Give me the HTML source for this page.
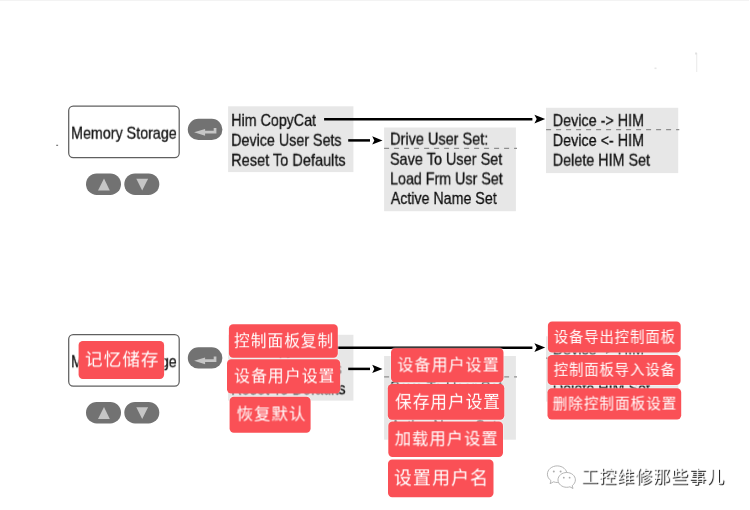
<!DOCTYPE html>
<html lang="zh-CN">
<head>
<meta charset="utf-8">
<title>Memory Storage</title>
<style>
html,body{margin:0;padding:0;background:#fff;}
body{width:750px;height:510px;position:relative;overflow:hidden;font-family:"Liberation Sans","Noto Sans CJK SC",sans-serif;}
.diagram{position:absolute;left:0;width:750px;height:140px;}
.t{position:absolute;left:0;top:0;white-space:nowrap;font-size:17px;line-height:20px;height:20px;color:#111;-webkit-text-stroke:0.3px #111;transform-origin:0 0;will-change:transform;}
svg.lines{position:absolute;left:0;top:0;}
.tag{position:absolute;color:#fff;font-family:"Liberation Sans","Noto Sans CJK SC",sans-serif;font-weight:400;}
.tag svg{position:absolute;left:0;top:0;}
.tag span{position:absolute;left:0;top:0;white-space:nowrap;line-height:26px;transform-origin:0 0;will-change:transform;}
.wm{position:absolute;left:0;top:0;font-size:17px;letter-spacing:1px;line-height:24px;color:#fff;text-shadow:0.9px 0.9px 0.5px rgba(0,0,0,0.9);white-space:nowrap;transform-origin:0 0;transform:translate(581.2px,465.8px) scale(0.999);will-change:transform;}
.specks{position:absolute;left:0;top:0;pointer-events:none;}
.wmi{position:absolute;left:545px;top:462px;transform:translateY(0.7px) scale(0.9999);transform-origin:0 0;}
</style>
</head>
<body>

<!-- top diagram: English menu tree -->
<div class="diagram" id="d1" style="top:90px">
  <svg class="lines" width="750" height="140" viewBox="0 0 750 140"><g transform="translate(0 0.00)">
    <rect x="68.7" y="16.1" width="110.5" height="51.5" rx="4.5" ry="4.5" fill="#fff" stroke="#606060" stroke-width="1.25"/>
    <rect x="228.1" y="16.3" width="125.3" height="65.8" fill="#e7e7e7"/>
    <rect x="384.1" y="37.5" width="131.8" height="83.7" fill="#e7e7e7"/>
    <rect x="546.0" y="17.8" width="132.2" height="65.3" fill="#e7e7e7"/>
    <g transform="translate(187.8 28.8)"><rect width="34.6" height="21.2" rx="10.6" fill="#727272"/><path d="M6.3 13.4 L17.3 10.2 L17.3 12 L25.9 12 L25.9 9.2 L28.6 9.2 L28.6 14.6 L17.3 14.6 L17.3 16.9 Z" fill="#c6c6c6"/></g>
    <g transform="translate(86 83.4)"><rect width="35" height="21.5" rx="10.7" fill="#727272"/><path d="M18 5 L23.8 17 L12 17 Z" fill="#c6c6c6"/></g>
    <g transform="translate(124.3 83.4)"><rect width="35" height="21.5" rx="10.7" fill="#727272"/><path d="M12 5.4 L23.8 5.4 L17.9 17 Z" fill="#c6c6c6"/></g>
    <line x1="384.1" y1="58.4" x2="517" y2="58.4" stroke="#8e8e8e" stroke-width="1.3" stroke-dasharray="5 5"/>
    <line x1="546.1" y1="39.7" x2="679.3" y2="39.7" stroke="#8e8e8e" stroke-width="1.3" stroke-dasharray="5 5"/>
    <line x1="324.1" y1="29.3" x2="532.4" y2="29.3" stroke="#000" stroke-width="2.6"/>
    <path d="M545.2 29.1 L534.4 24.7 L536.7 29.1 L534.4 33.5 Z" fill="#000"/>
    <line x1="348.2" y1="50.4" x2="370" y2="50.4" stroke="#000" stroke-width="2.5"/>
    <path d="M382.5 50.4 L372.2 46.2 L374.3 50.4 L372.2 54.6 Z" fill="#000"/>
  </g></svg>
  <div class="t" style="transform:translate(71.08px,33.70px) scaleX(0.8403);">Memory Storage</div>
  <div class="t" style="transform:translate(231.23px,20.90px) scaleX(0.8391);">Him CopyCat</div>
  <div class="t" style="transform:translate(231.18px,40.80px) scaleX(0.8404);">Device User Sets</div>
  <div class="t" style="transform:translate(231.16px,60.80px) scaleX(0.8555);">Reset To Defaults</div>
  <div class="t" style="transform:translate(390.06px,39.60px) scaleX(0.8524);">Drive User Set:</div>
  <div class="t" style="transform:translate(389.95px,59.80px) scaleX(0.8512);">Save To User Set</div>
  <div class="t" style="transform:translate(390.08px,79.40px) scaleX(0.8391);">Load Frm Usr Set</div>
  <div class="t" style="transform:translate(390.80px,99.00px) scaleX(0.8361);">Active Name Set</div>
  <div class="t" style="transform:translate(552.77px,21.10px) scaleX(0.8440);">Device -&gt; HIM</div>
  <div class="t" style="transform:translate(552.77px,41.00px) scaleX(0.8440);">Device &lt;- HIM</div>
  <div class="t" style="transform:translate(552.77px,60.70px) scaleX(0.8439);">Delete HIM Set</div>
</div>

<!-- bottom diagram: same tree with translation tags -->
<div class="diagram" id="d2" style="top:318px">
  <svg class="lines" width="750" height="140" viewBox="0 0 750 140"><g transform="translate(0 0.50)">
    <rect x="68.7" y="16.1" width="110.5" height="51.5" rx="4.5" ry="4.5" fill="#fff" stroke="#606060" stroke-width="1.25"/>
    <rect x="228.1" y="16.3" width="125.3" height="65.8" fill="#e7e7e7"/>
    <rect x="384.1" y="37.5" width="131.8" height="83.7" fill="#e7e7e7"/>
    <rect x="546.0" y="17.8" width="132.2" height="65.3" fill="#e7e7e7"/>
    <g transform="translate(187.8 28.8)"><rect width="34.6" height="21.2" rx="10.6" fill="#727272"/><path d="M6.3 13.4 L17.3 10.2 L17.3 12 L25.9 12 L25.9 9.2 L28.6 9.2 L28.6 14.6 L17.3 14.6 L17.3 16.9 Z" fill="#c6c6c6"/></g>
    <g transform="translate(86 83.4)"><rect width="35" height="21.5" rx="10.7" fill="#727272"/><path d="M18 5 L23.8 17 L12 17 Z" fill="#c6c6c6"/></g>
    <g transform="translate(124.3 83.4)"><rect width="35" height="21.5" rx="10.7" fill="#727272"/><path d="M12 5.4 L23.8 5.4 L17.9 17 Z" fill="#c6c6c6"/></g>
    <line x1="384.1" y1="58.4" x2="517" y2="58.4" stroke="#8e8e8e" stroke-width="1.3" stroke-dasharray="5 5"/>
    <line x1="546.1" y1="39.7" x2="679.3" y2="39.7" stroke="#8e8e8e" stroke-width="1.3" stroke-dasharray="5 5"/>
    <line x1="324.1" y1="29.3" x2="532.4" y2="29.3" stroke="#000" stroke-width="2.6"/>
    <path d="M545.2 29.1 L534.4 24.7 L536.7 29.1 L534.4 33.5 Z" fill="#000"/>
    <line x1="348.2" y1="50.4" x2="370" y2="50.4" stroke="#000" stroke-width="2.5"/>
    <path d="M382.5 50.4 L372.2 46.2 L374.3 50.4 L372.2 54.6 Z" fill="#000"/>
  </g></svg>
  <div class="t" style="transform:translate(71.08px,34.20px) scaleX(0.8403);">Memory Storage</div>
  <div class="t" style="transform:translate(231.23px,21.40px) scaleX(0.8391);">Him CopyCat</div>
  <div class="t" style="transform:translate(231.18px,41.30px) scaleX(0.8404);">Device User Sets</div>
  <div class="t" style="transform:translate(231.16px,61.30px) scaleX(0.8555);">Reset To Defaults</div>
  <div class="t" style="transform:translate(390.06px,40.10px) scaleX(0.8524);">Drive User Set:</div>
  <div class="t" style="transform:translate(389.95px,60.30px) scaleX(0.8512);">Save To User Set</div>
  <div class="t" style="transform:translate(390.08px,79.90px) scaleX(0.8391);">Load Frm Usr Set</div>
  <div class="t" style="transform:translate(390.80px,99.50px) scaleX(0.8361);">Active Name Set</div>
  <div class="t" style="transform:translate(552.77px,21.60px) scaleX(0.8440);">Device -&gt; HIM</div>
  <div class="t" style="transform:translate(552.77px,41.50px) scaleX(0.8440);">Device &lt;- HIM</div>
  <div class="t" style="transform:translate(552.77px,61.20px) scaleX(0.8439);">Delete HIM Set</div>
</div>

<!-- red translation tags -->
<div class="tag" style="left:77px;top:339px;width:89px;height:41px;"><svg width="89" height="41" viewBox="0 0 89 41"><rect x="0.80" y="1.10" width="87.10" height="39.70" rx="5.0" ry="5.0" fill="#fff" fill-opacity="0.45"/><rect x="1.60" y="1.90" width="85.50" height="38.10" rx="4.2" ry="4.2" fill="#fa5056"/></svg><span style="font-size:17.59px;letter-spacing:1.12px;transform:translate(7.92px,7.43px) scale(0.998);">记忆储存</span></div>
<div class="tag" style="left:227px;top:323px;width:112px;height:36px;"><svg width="112" height="36" viewBox="0 0 112 36"><rect x="1.10" y="0.40" width="110.50" height="35.20" rx="5.0" ry="5.0" fill="#fff" fill-opacity="0.45"/><rect x="1.90" y="1.20" width="108.90" height="33.60" rx="4.2" ry="4.2" fill="#fa5056"/></svg><span style="font-size:15.73px;letter-spacing:1.00px;transform:translate(7.03px,5.23px) scale(0.998);">控制面板复制</span></div>
<div class="tag" style="left:226px;top:358px;width:116px;height:37px;"><svg width="116" height="37" viewBox="0 0 116 37"><rect x="0.20" y="0.40" width="114.80" height="35.80" rx="5.0" ry="5.0" fill="#fff" fill-opacity="0.45"/><rect x="1.00" y="1.20" width="113.20" height="34.20" rx="4.2" ry="4.2" fill="#fa5056"/></svg><span style="font-size:15.90px;letter-spacing:1.02px;transform:translate(8.14px,5.48px) scale(0.998);">设备用户设置</span></div>
<div class="tag" style="left:228px;top:395px;width:84px;height:39px;"><svg width="84" height="39" viewBox="0 0 84 39"><rect x="0.80" y="1.00" width="82.60" height="37.60" rx="5.0" ry="5.0" fill="#fff" fill-opacity="0.45"/><rect x="1.60" y="1.80" width="81.00" height="36.00" rx="4.2" ry="4.2" fill="#fa5056"/></svg><span style="font-size:16.45px;letter-spacing:1.05px;transform:translate(8.54px,5.47px) scale(0.998);">恢复默认</span></div>
<div class="tag" style="left:390px;top:347px;width:115px;height:37px;"><svg width="115" height="37" viewBox="0 0 115 37"><rect x="0.20" y="0.40" width="114.10" height="35.60" rx="5.0" ry="5.0" fill="#fff" fill-opacity="0.45"/><rect x="1.00" y="1.20" width="112.50" height="34.00" rx="4.2" ry="4.2" fill="#fa5056"/></svg><span style="font-size:16.06px;letter-spacing:1.03px;transform:translate(7.39px,4.46px) scale(0.998);">设备用户设置</span></div>
<div class="tag" style="left:386px;top:383px;width:120px;height:38px;"><svg width="120" height="38" viewBox="0 0 120 38"><rect x="1.00" y="0.30" width="118.10" height="37.30" rx="5.0" ry="5.0" fill="#fff" fill-opacity="0.45"/><rect x="1.80" y="1.10" width="116.50" height="35.70" rx="4.2" ry="4.2" fill="#fa5056"/></svg><span style="font-size:16.61px;letter-spacing:1.06px;transform:translate(9.14px,6.88px) scale(0.998);">保存用户设置</span></div>
<div class="tag" style="left:387px;top:420px;width:117px;height:38px;"><svg width="117" height="38" viewBox="0 0 117 38"><rect x="0.50" y="0.70" width="116.30" height="37.10" rx="5.0" ry="5.0" fill="#fff" fill-opacity="0.45"/><rect x="1.30" y="1.50" width="114.70" height="35.50" rx="4.2" ry="4.2" fill="#fa5056"/></svg><span style="font-size:16.33px;letter-spacing:1.04px;transform:translate(7.68px,5.31px) scale(0.998);">加载用户设置</span></div>
<div class="tag" style="left:387px;top:458px;width:108px;height:41px;"><svg width="108" height="41" viewBox="0 0 108 41"><rect x="0.20" y="0.70" width="107.10" height="39.40" rx="5.0" ry="5.0" fill="#fff" fill-opacity="0.45"/><rect x="1.00" y="1.50" width="105.50" height="37.80" rx="4.2" ry="4.2" fill="#fa5056"/></svg><span style="font-size:17.95px;letter-spacing:1.15px;transform:translate(6.89px,7.35px) scale(0.998);">设置用户名</span></div>
<div class="tag" style="left:546px;top:320px;width:136px;height:34px;"><svg width="136" height="34" viewBox="0 0 136 34"><rect x="1.10" y="0.70" width="134.40" height="32.70" rx="5.0" ry="5.0" fill="#fff" fill-opacity="0.45"/><rect x="1.90" y="1.50" width="132.80" height="31.10" rx="4.2" ry="4.2" fill="#fa5056"/></svg><span style="font-size:14.37px;letter-spacing:0.92px;transform:translate(7.77px,4.06px) scale(0.998);">设备导出控制面板</span></div>
<div class="tag" style="left:546px;top:353px;width:136px;height:34px;"><svg width="136" height="34" viewBox="0 0 136 34"><rect x="0.80" y="1.10" width="134.60" height="31.80" rx="5.0" ry="5.0" fill="#fff" fill-opacity="0.45"/><rect x="1.60" y="1.90" width="133.00" height="30.20" rx="4.2" ry="4.2" fill="#fa5056"/></svg><span style="font-size:14.36px;letter-spacing:0.92px;transform:translate(7.75px,3.85px) scale(0.998);">控制面板导入设备</span></div>
<div class="tag" style="left:546px;top:387px;width:137px;height:34px;"><svg width="137" height="34" viewBox="0 0 137 34"><rect x="0.70" y="0.50" width="135.30" height="32.70" rx="5.0" ry="5.0" fill="#fff" fill-opacity="0.45"/><rect x="1.50" y="1.30" width="133.70" height="31.10" rx="4.2" ry="4.2" fill="#fa5056"/></svg><span style="font-size:14.68px;letter-spacing:0.94px;transform:translate(6.63px,3.65px) scale(0.998);">删除控制面板设置</span></div>

<!-- scan specks -->
<svg class="specks" width="750" height="510" viewBox="0 0 750 510">
  <rect x="0" y="0" width="749" height="0.8" fill="#f1f1f1"/>
  <rect x="56.2" y="144.8" width="1.9" height="0.9" fill="#4a4a4a"/>
  <rect x="696.4" y="53" width="0.8" height="19" fill="#e3e3e3"/>
  <rect x="695.2" y="52.5" width="1.6" height="2" fill="#dcdcdc"/>
  <rect x="654.5" y="67.5" width="2" height="1.6" fill="#e6e6e6"/>
</svg>

<!-- watermark -->
<svg class="wmi" width="34" height="30" viewBox="0 0 34 30">
  <g fill="#fff" stroke="#adadad" stroke-width="0.9" stroke-linejoin="round">
    <path d="M12.2 3.2 C6.8 3.2 2.4 6.9 2.4 11.5 C2.4 14.1 3.8 16.4 6 17.9 L5.1 21 L8.6 19.1 C9.7 19.5 10.9 19.8 12.2 19.8 C17.6 19.8 22 16.1 22 11.5 C22 6.9 17.6 3.2 12.2 3.2 Z"/>
    <path d="M21.7 9.8 C16.9 9.8 13 13.1 13 17.2 C13 21.3 16.9 24.6 21.7 24.6 C22.8 24.6 23.9 24.4 24.9 24.1 L28 25.8 L27.2 23 C29.1 21.6 30.4 19.5 30.4 17.2 C30.4 13.1 26.5 9.8 21.7 9.8 Z"/>
  </g>
  <g fill="#adadad"><circle cx="8.8" cy="8.9" r="1"/><circle cx="15.6" cy="8.9" r="1"/><circle cx="18.8" cy="15" r="0.9"/><circle cx="24.6" cy="15" r="0.9"/></g>
</svg>
<div class="wm">工控维修那些事儿</div>

</body>
</html>
